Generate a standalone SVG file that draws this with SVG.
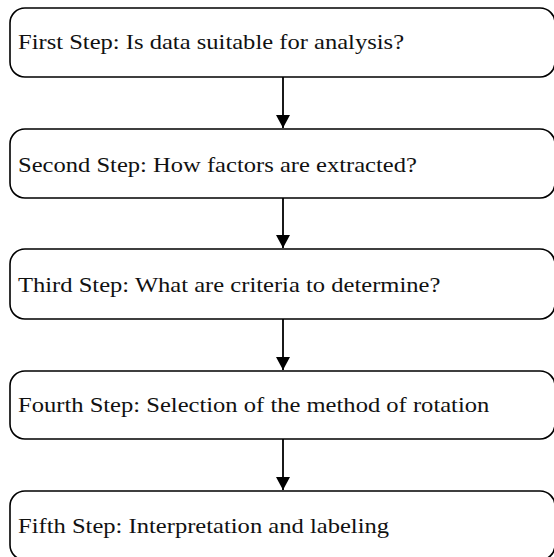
<svg xmlns="http://www.w3.org/2000/svg" width="554" height="557" viewBox="0 0 554 557">
  <style>
    .box { fill: #ffffff; stroke: #000000; stroke-width: 1.6; }
    .label { font-family: "Liberation Serif", "Times New Roman", serif; font-size: 21px; fill: #111111; }
    .link { stroke: #000000; stroke-width: 1.8; fill: none; marker-end: url(#arrow); }
  </style>
  <defs>
    <marker id="arrow" markerUnits="userSpaceOnUse" markerWidth="14" markerHeight="14" refX="13" refY="7" orient="auto">
      <path d="M0,0 L13,7 L0,14 Z" fill="#000000"/>
    </marker>
  </defs>
  <rect width="554" height="557" fill="#ffffff"/>

  <g id="connectors">
    <line class="link" x1="283" y1="77" x2="283" y2="128"/>
    <line class="link" x1="283" y1="198" x2="283" y2="248"/>
    <line class="link" x1="283" y1="319" x2="283" y2="370"/>
    <line class="link" x1="283" y1="439" x2="283" y2="490"/>
  </g>

  <!-- labels are set slightly wide: horizontal scale 1.17 -->
  <g id="step1">
    <rect class="box" x="10" y="8" width="545" height="69" rx="15" ry="15"/>
    <text class="label" transform="matrix(1.17 0 0 1 18 49)">First Step: Is data suitable for analysis?</text>
  </g>
  <g id="step2">
    <rect class="box" x="10" y="129" width="545" height="69" rx="15" ry="15"/>
    <text class="label" transform="matrix(1.17 0 0 1 18 172)">Second Step: How factors are extracted?</text>
  </g>
  <g id="step3">
    <rect class="box" x="10" y="249" width="545" height="70" rx="15" ry="15"/>
    <text class="label" transform="matrix(1.17 0 0 1 18 292)">Third Step: What are criteria to determine?</text>
  </g>
  <g id="step4">
    <rect class="box" x="10" y="371" width="545" height="68" rx="15" ry="15"/>
    <text class="label" transform="matrix(1.17 0 0 1 18 412)">Fourth Step: Selection of the method of rotation</text>
  </g>
  <g id="step5">
    <rect class="box" x="10" y="491" width="545" height="69" rx="15" ry="15"/>
    <text class="label" transform="matrix(1.17 0 0 1 18 533)">Fifth Step: Interpretation and labeling</text>
  </g>
</svg>
